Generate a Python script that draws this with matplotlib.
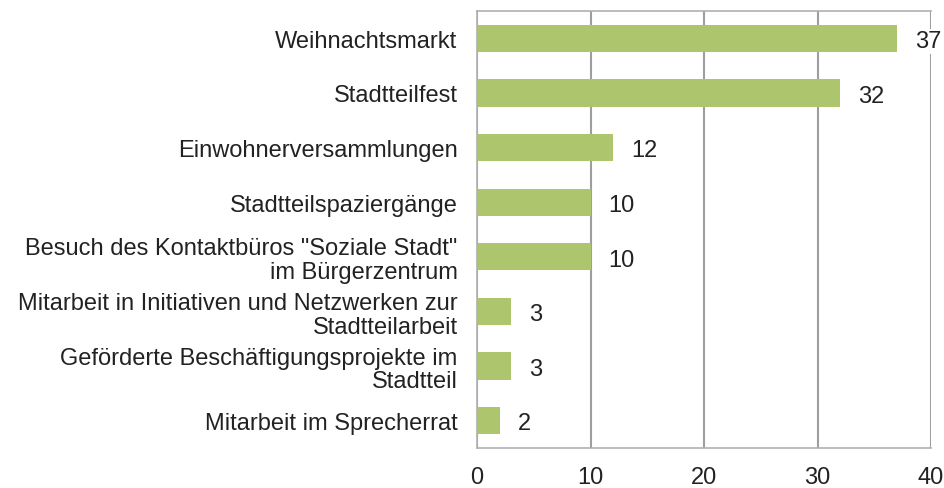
import matplotlib.pyplot as plt

# -------------------------------
# Data
# -------------------------------
categories = [
    "Weihnachtsmarkt",
    "Stadtteilfest",
    "Einwohnerversammlungen",
    "Stadtteilspaziergänge",
    "Besuch des Kontaktbüros \"Soziale Stadt\"\nim Bürgerzentrum",
    "Mitarbeit in Initiativen und Netzwerken zur\nStadtteilarbeit",
    "Geförderte Beschäftigungsprojekte im\nStadtteil",
    "Mitarbeit im Sprecherrat",
]
values = [37, 32, 12, 10, 10, 3, 3, 2]
x_ticks = [0, 10, 20, 30, 40]

plt.rcParams["font.family"] = ["Liberation Sans", "DejaVu Sans"]

fig = plt.figure(figsize=(9.45, 4.89), dpi=100)
ax = fig.add_axes([477 / 945, 1 - 449 / 489, (931 - 477) / 945, (449 - 12) / 489])

pos = list(range(len(categories)))
ax.barh(pos, values, height=0.5, color="#ADC66E", zorder=2)
ax.set_ylim(len(categories) - 0.5, -0.5)
ax.set_xlim(0, 40)
ax.set_xticks(x_ticks)
ax.set_yticks(pos)
ax.set_yticklabels(categories, fontsize=17, linespacing=1.1, color="#222222")
ax.tick_params(axis="x", labelsize=17, length=0, pad=13, labelcolor="#222222")
ax.tick_params(axis="y", length=0, pad=14)

ax.grid(axis="x", color="#9E9E9E", linewidth=1.5, zorder=1)
for side in ["left", "bottom", "top"]:
    ax.spines[side].set_color("#B0B0B0")
    ax.spines[side].set_linewidth(1.2)
ax.spines["right"].set_visible(False)

# value labels
for p, v in zip(pos, values):
    ax.annotate(str(v), (v, p), xytext=(13, -2), textcoords="offset points",
                va="center", ha="left", fontsize=17, color="#222222", zorder=3,
                bbox=dict(facecolor="white", edgecolor="none", pad=1))

fig.savefig("out.png", dpi=100)
